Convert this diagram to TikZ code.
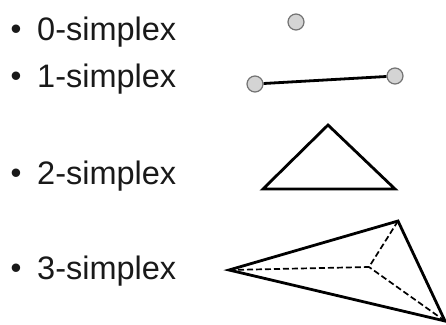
\documentclass[tikz,border=0pt]{standalone}
\usepackage{fontspec}
\setmainfont{Liberation Sans}
\begin{document}
\begin{tikzpicture}[vertex/.style={draw=black!55, fill=black!17, circle, minimum size=16pt, inner sep=0pt, line width=1.2pt},
				edge/.style={line width=2.8pt, line join=miter},
				hidden/.style={line width=1.7pt, dash pattern=on 6pt off 3pt},
				caption/.style={anchor=base west, inner sep=0pt, text=black!90},
				x=1pt, y=-1pt,
				font=\fontsize{32.5pt}{36pt}\selectfont]
				%Bildbereich
				\useasboundingbox (0,0) rectangle (446,324);
				% Beschriftung
				\foreach \n/\y in {0/40,1/87,2/184,3/279} {
					\node[caption, font=\fontsize{31pt}{34pt}\selectfont, yshift=1pt] (bullet\n) at (10.5,\y) {•};
					\node[caption] (label\n) at (37,\y) {\n-simplex};
				}
				% 0-simplex
				\node[vertex] (p) at (296,22) {};
				% 1-simplex
				\node[vertex] (a) at (255,84) {};
				\node[vertex] (b) at (395,76) {};
				\draw[edge] (a) -- (b);
				% 2-simplex
				\coordinate (t1) at (328,125);
				\coordinate (t2) at (263,189);
				\coordinate (t3) at (395,189);
				\draw[edge] (t1) -- (t2) -- (t3) -- cycle;
				% 3-simplex
				\coordinate (s1) at (229,270);
				\coordinate (s2) at (398,221);
				\coordinate (s3) at (445,321);
				\coordinate (s4) at (369,267);
				\draw[hidden] (s1) -- (s4);
				\draw[hidden] (s2) -- (s4);
				\draw[hidden] (s3) -- (s4);
				\draw[edge] (s1) -- (s2) -- (s3) -- cycle;
			\end{tikzpicture}
\end{document}
